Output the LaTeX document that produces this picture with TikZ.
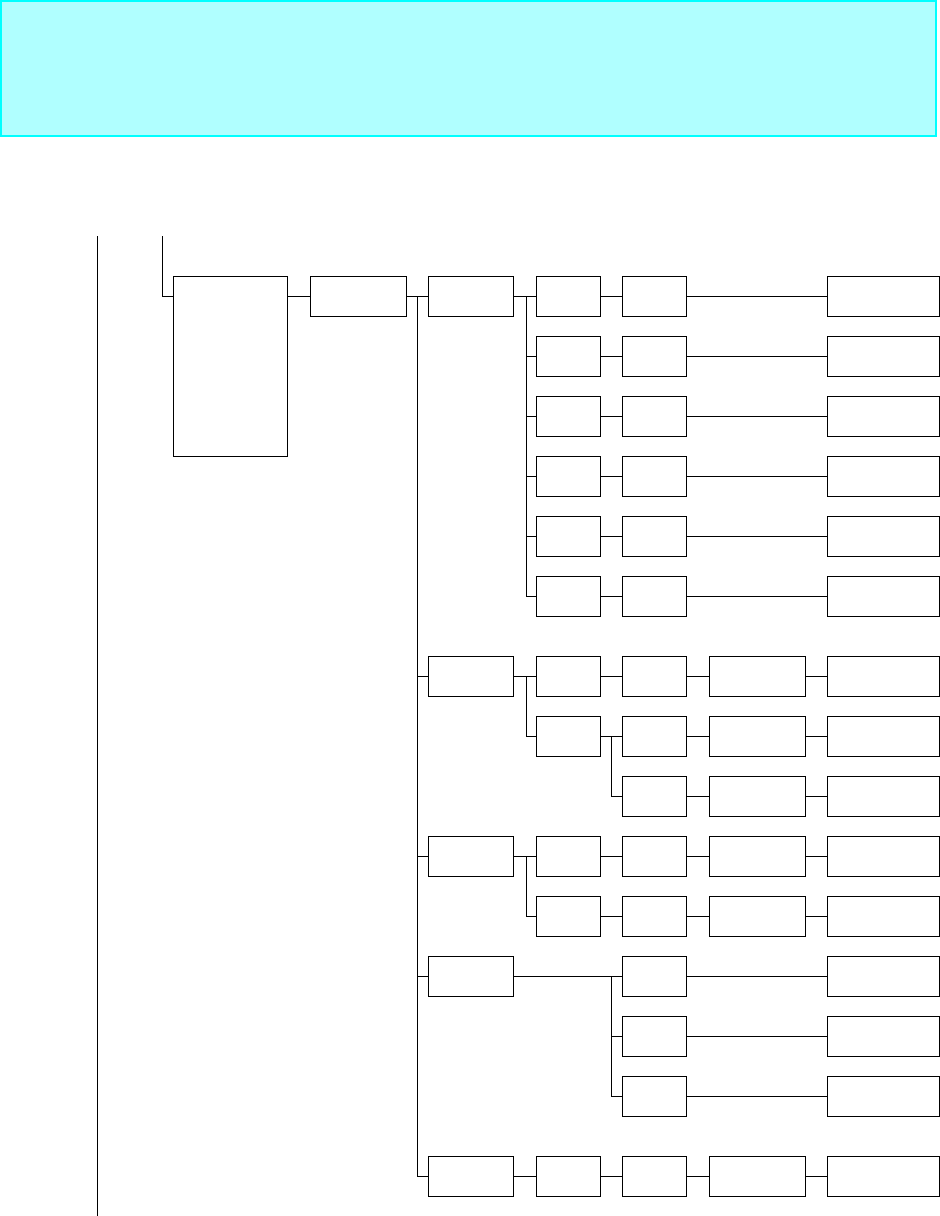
\documentclass[tikz,border=0pt]{standalone}
\usepackage{xcolor}
\definecolor{bannerfill}{RGB}{176,255,255}
\definecolor{bannerline}{RGB}{0,255,255}

\begin{document}
\begin{tikzpicture}[
  x=1pt,y=-1pt,
  line width=1pt,
  stagebox/.style={draw,rectangle,inner sep=0pt,outer sep=0pt,minimum height=40pt},
  rootbox/.style={stagebox,minimum width=114pt,minimum height=180pt},
  hubbox/.style={stagebox,minimum width=96pt},
  branchbox/.style={stagebox,minimum width=85pt},
  unitbox/.style={stagebox,minimum width=64pt},
  partbox/.style={stagebox,minimum width=96pt},
  leafbox/.style={stagebox,minimum width=112pt}
]
  \useasboundingbox (0,0) rectangle (940,1216);

  % Banner across the top.
  \draw[fill=bannerfill,draw=bannerline,line width=1.2pt] (1,1) rectangle (936,136);

  % Left rail and the entry line.
  \coordinate (railtop) at (97,236);
  \coordinate (railbot) at (97,1216);
  \draw (railtop) -- (railbot);
  \coordinate (entry) at (162,236);
  \node[rootbox] (root) at (230,366) {};
  \node[hubbox] (hub) at (358,296) {};
  \draw (entry) |- (hub.west -| root.west);
  \draw (hub.west -| root.east) -- (hub.west);

  % Branches on the trunk.
  \node[branchbox] (br1) at (470.5,296) {};
  \node[branchbox] (br2) at (470.5,676) {};
  \node[branchbox] (br3) at (470.5,856) {};
  \node[branchbox] (br4) at (470.5,976) {};
  \node[branchbox] (br5) at (470.5,1176) {};
  \coordinate (trunk) at (417,296);
  \draw (hub) -- (br1);
  \draw (trunk) |- (br5.west);
  \foreach \k in {2,3,4}
    \draw (trunk) |- (br\k.west);

  % First branch: six rows.
  \coordinate (bus1) at (526,296);
  \draw (br1) -- (bus1);
  \foreach \i in {1,...,6} {
    \pgfmathsetmacro\rowy{236+60*\i}
    \node[unitbox] (a\i) at (568,\rowy) {};
    \node[unitbox] (b\i) at (654,\rowy) {};
    \node[leafbox] (c\i) at (883,\rowy) {};
    \draw (bus1) |- (a\i.west);
    \draw (a\i) -- (b\i) -- (c\i);
  }

  % Second branch.
  \node[unitbox] (d1) at (568,676) {};
  \node[unitbox] (d2) at (568,736) {};
  \node[unitbox] (e1) at (654,676) {};
  \node[unitbox] (e2) at (654,736) {};
  \node[unitbox] (e3) at (654,796) {};
  \node[partbox] (f1) at (757,676) {};
  \node[partbox] (f2) at (757,736) {};
  \node[partbox] (f3) at (757,796) {};
  \node[leafbox] (g1) at (883,676) {};
  \node[leafbox] (g2) at (883,736) {};
  \node[leafbox] (g3) at (883,796) {};
  \coordinate (bus2) at (526,676);
  \coordinate (bus3) at (611,736);
  \draw (br2) -- (d1) -- (e1) -- (f1) -- (g1);
  \draw (bus2) |- (d2.west);
  \draw (d2) -- (e2) -- (f2) -- (g2);
  \draw (bus3) |- (e3.west);
  \draw (e3) -- (f3) -- (g3);

  % Third branch.
  \node[unitbox] (h1) at (568,856) {};
  \node[unitbox] (h2) at (568,916) {};
  \node[unitbox] (i1) at (654,856) {};
  \node[unitbox] (i2) at (654,916) {};
  \node[partbox] (j1) at (757,856) {};
  \node[partbox] (j2) at (757,916) {};
  \node[leafbox] (k1) at (883,856) {};
  \node[leafbox] (k2) at (883,916) {};
  \coordinate (bus4) at (526,856);
  \draw (br3) -- (h1) -- (i1) -- (j1) -- (k1);
  \draw (bus4) |- (h2.west);
  \draw (h2) -- (i2) -- (j2) -- (k2);

  % Fourth branch.
  \node[unitbox] (m1) at (654,976) {};
  \node[unitbox] (m2) at (654,1036) {};
  \node[unitbox] (m3) at (654,1096) {};
  \node[leafbox] (n1) at (883,976) {};
  \node[leafbox] (n2) at (883,1036) {};
  \node[leafbox] (n3) at (883,1096) {};
  \coordinate (bus5) at (611,976);
  \draw (br4) -- (m1) -- (n1);
  \draw (bus5) |- (m2.west);
  \draw (bus5) |- (m3.west);
  \draw (m2) -- (n2);
  \draw (m3) -- (n3);

  % Last branch.
  \node[unitbox] (p) at (568,1176) {};
  \node[unitbox] (q) at (654,1176) {};
  \node[partbox] (r) at (757,1176) {};
  \node[leafbox] (s) at (883,1176) {};
  \draw (br5) -- (p) -- (q) -- (r) -- (s);
\end{tikzpicture}
\end{document}
